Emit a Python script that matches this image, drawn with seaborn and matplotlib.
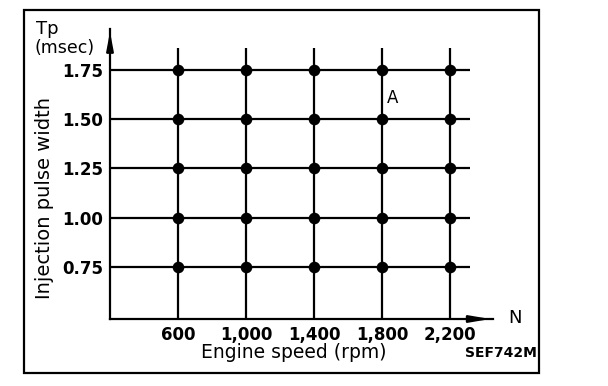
import matplotlib
matplotlib.use('Agg')
import matplotlib.pyplot as plt
import seaborn as sns
import pandas as pd
from matplotlib.patches import Rectangle

# --- Data ---
engine_speed = [600, 1000, 1400, 1800, 2200]
pulse_width = [0.75, 1.00, 1.25, 1.50, 1.75]
x_tick_labels = ['600', '1,000', '1,400', '1,800', '2,200']
y_tick_labels = ['0.75', '1.00', '1.25', '1.50', '1.75']

W, H = 608, 386
sns.set_theme(style='white')
plt.rcParams['font.family'] = ['DejaVu Sans']
plt.rcParams['text.color'] = 'black'

fig = plt.figure(figsize=(W / 100, H / 100), dpi=100)

# axes box in pixel coordinates (from top-left)
ax_left, ax_right, ax_top, ax_bottom = 110, 493, 29, 319
ax = fig.add_axes([ax_left / W, 1 - ax_bottom / H,
                   (ax_right - ax_left) / W, (ax_bottom - ax_top) / H])
ax.set_xlim(200, 2453)
ax.set_ylim(0.486, 1.958)

# grid lines
ax.hlines(pulse_width, 200, 2318, color='black', lw=1.6)
ax.vlines(engine_speed, 0.486, 1.86, color='black', lw=1.6)

# grid points
pts = pd.DataFrame([(x, y) for x in engine_speed for y in pulse_width],
                   columns=['speed', 'tp'])
sns.scatterplot(data=pts, x='speed', y='tp', ax=ax, color='black',
                s=70, edgecolor='black', linewidth=0, zorder=3)

# axes with arrows
for s in ['top', 'right']:
    ax.spines[s].set_visible(False)
for s in ['left', 'bottom']:
    ax.spines[s].set_color('black')
    ax.spines[s].set_linewidth(1.6)
ax.annotate('', xy=(1.0, 0), xytext=(0.93, 0), xycoords='axes fraction',
            arrowprops=dict(arrowstyle='-|>,head_length=1.0,head_width=0.17',
                            color='black', lw=1.6))
ax.annotate('', xy=(0, 1.0), xytext=(0, 0.93), xycoords='axes fraction',
            arrowprops=dict(arrowstyle='-|>,head_length=0.9,head_width=0.17',
                            color='black', lw=1.6))

ax.set_xticks(engine_speed)
ax.set_xticklabels(x_tick_labels, fontsize=12, fontweight='bold', color='black')
ax.set_yticks(pulse_width)
ax.set_yticklabels(y_tick_labels, fontsize=12, fontweight='bold', color='black')
ax.tick_params(axis='both', length=0, pad=5, colors='black')
ax.set_xlabel('')
ax.set_ylabel('')

ax.text(1830, 1.61, 'A', fontsize=12, ha='left', va='center')

# outer frame and texts
fig.patches.append(Rectangle((24 / W, 1 - 373 / H), (539 - 24) / W, (373 - 10) / H,
                             transform=fig.transFigure, fill=False,
                             edgecolor='black', lw=1.6))
fig.text(36 / W, 1 - 29 / H, 'Tp', fontsize=13, ha='left', va='center')
fig.text(35 / W, 1 - 48 / H, '(msec)', fontsize=12.5, ha='left', va='center')
fig.text(45 / W, 1 - 198 / H, 'Injection pulse width', fontsize=14,
         rotation=90, ha='center', va='center')
fig.text(508 / W, 1 - 318 / H, 'N', fontsize=13, ha='left', va='center')
fig.text(294 / W, 1 - 353 / H, 'Engine speed (rpm)', fontsize=13.5,
         ha='center', va='center')
fig.text(537 / W, 1 - 353 / H, 'SEF742M', fontsize=10, fontweight='bold',
         ha='right', va='center')

fig.savefig('out.png', dpi=100)
